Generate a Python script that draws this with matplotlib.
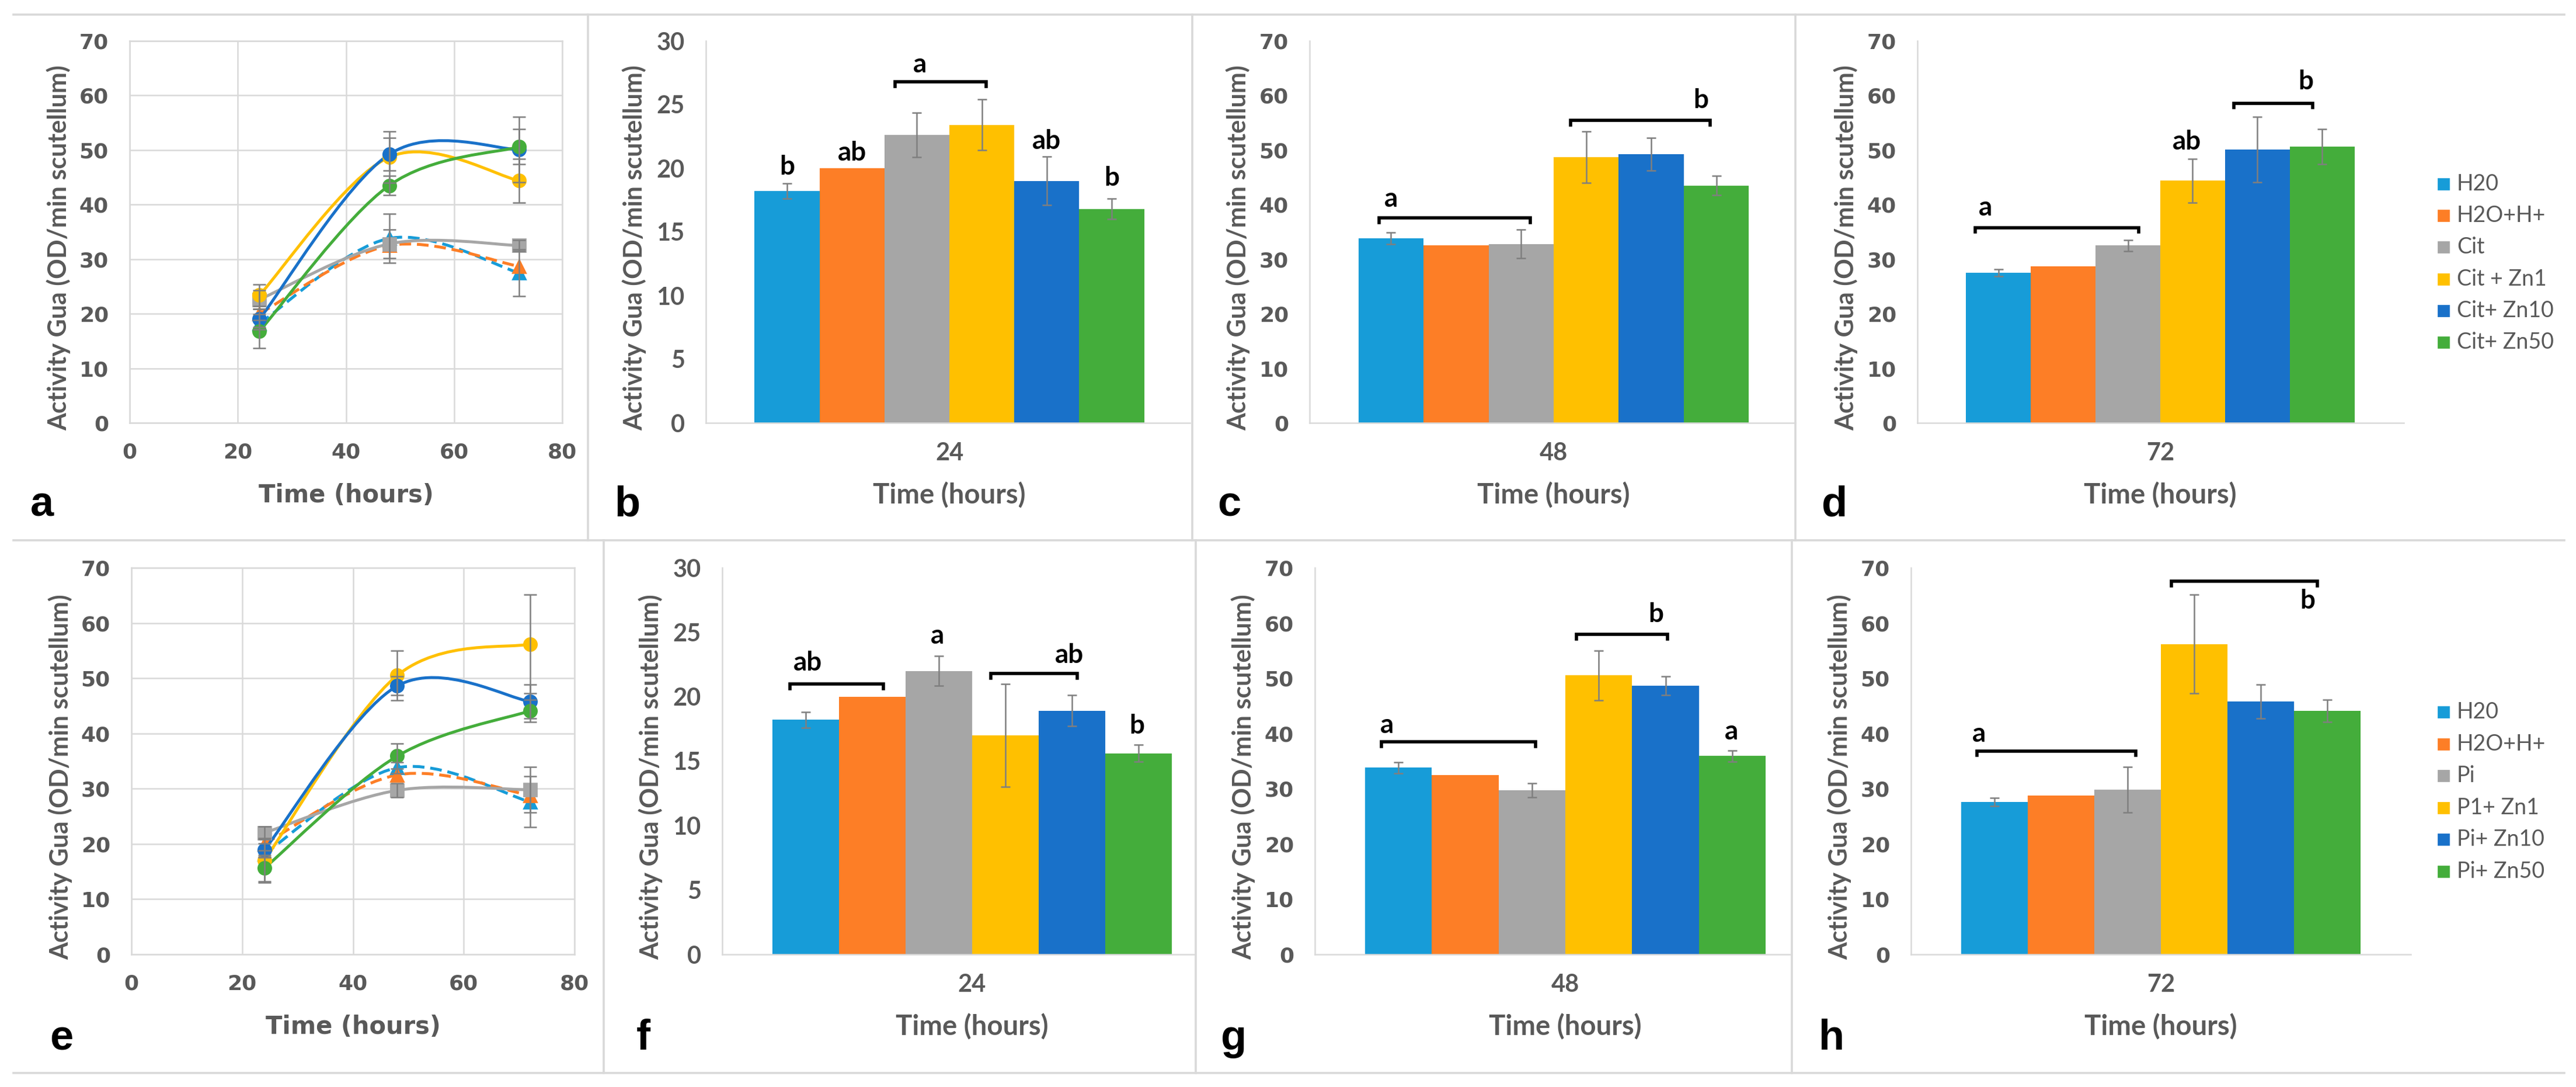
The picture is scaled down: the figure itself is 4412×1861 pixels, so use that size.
import matplotlib.pyplot as plt
import numpy as np
from matplotlib.lines import Line2D
from matplotlib.patches import PathPatch, Rectangle
from matplotlib.path import Path

W, H = 4412, 1861
DPI = 200

HOURS = [24, 48, 72]
CIT_LABELS = ["H20", "H2O+H+", "Cit", "Cit + Zn1", "Cit+ Zn10", "Cit+ Zn50"]
PI_LABELS = ["H20", "H2O+H+", "Pi", "P1+ Zn1", "Pi+ Zn10", "Pi+ Zn50"]
COLORS = ["#179cd8", "#fd7e26", "#a6a6a6", "#ffc000", "#1971c9", "#44ad3b"]

# citrate series (top row), one list per time point, order = labels
CIT_24 = [18.2, 20.0, 22.6, 23.4, 19.0, 16.8]
CIT_24_ERR = [0.6, 0.0, 1.75, 2.0, 1.9, 0.8]
CIT_48 = [33.8, 32.5, 32.8, 48.7, 49.2, 43.5]
CIT_48_ERR = [1.1, 0.0, 2.6, 4.7, 3.0, 1.8]
CIT_72 = [27.5, 28.7, 32.5, 44.4, 50.1, 50.6]
CIT_72_ERR = [0.6, 0.0, 1.0, 4.0, 6.0, 3.2]
# error bars drawn on the time-course plot (a)
CIT_LINE_ERR_24 = [0.6, 0.0, 1.75, 2.0, 1.9, 3.1]
CIT_LINE_ERR_48 = [4.5, 0.0, 2.6, 4.7, 3.0, 1.8]
CIT_LINE_ERR_72 = [4.3, 0.0, 1.0, 4.0, 6.0, 3.2]

# phosphate series (bottom row)
PI_24 = [18.2, 20.0, 22.0, 17.0, 18.9, 15.6]
PI_24_ERR = [0.6, 0.0, 1.15, 4.0, 1.2, 0.65]
PI_48 = [33.8, 32.5, 29.7, 50.5, 48.6, 35.9]
PI_48_ERR = [1.0, 0.0, 1.3, 4.5, 1.7, 1.0]
PI_72 = [27.6, 28.8, 29.8, 56.2, 45.8, 44.1]
PI_72_ERR = [0.7, 0.0, 4.1, 8.9, 3.1, 2.0]
PI_LINE_ERR_24 = [0.6, 0.0, 1.2, 4.0, 1.2, 2.4]
PI_LINE_ERR_48 = [1.0, 0.0, 1.3, 4.5, 1.7, 2.3]
PI_LINE_ERR_72 = [4.6, 0.0, 4.1, 8.9, 3.1, 2.0]

# significance letters (text, bar index, y) and brackets (from, to, y)
B_LETTERS = [("b", 0, 20.1), ("ab", 1, 21.2), ("a", 2.05, 28.1), ("ab", 4, 22.1), ("b", 5, 19.2)]
B_BRACKETS = [(1.66, 3.07, 26.8)]
C_LETTERS = [("a", 0.0, 41.0), ("b", 4.76, 59.1)]
C_BRACKETS = [(-0.18, 2.14, 37.6), (2.76, 4.9, 55.4)]
D_LETTERS = [("a", -0.2, 39.4), ("ab", 2.91, 51.5), ("b", 4.75, 62.5)]
D_BRACKETS = [(-0.36, 2.17, 35.8), (3.64, 4.85, 58.6)]
F_LETTERS = [("ab", 0.03, 22.6), ("a", 1.98, 24.7), ("ab", 3.96, 23.2), ("b", 4.97, 17.7)]
F_BRACKETS = [(-0.23, 1.17, 21.0), (2.78, 4.08, 21.8)]
G_LETTERS = [("a", -0.17, 41.4), ("b", 3.86, 61.5), ("a", 4.99, 40.3)]
G_BRACKETS = [(-0.25, 2.05, 38.5), (2.67, 4.03, 57.9)]
H_LETTERS = [("a", -0.23, 39.9), ("b", 4.7, 64.0)]
H_BRACKETS = [(-0.26, 2.12, 36.85), (2.66, 4.85, 67.6)]

GREY_TXT = "#595959"
FRAME = "#d9d9d9"
YLABEL = "Activity Gua (OD/min scutellum)"
XLABEL = "Time (hours)"
CAL = "Lato"
VER = "DejaVu Sans"

fig = plt.figure(figsize=(W / DPI, H / DPI), dpi=DPI)
fig.patch.set_facecolor("white")


def fx(px):
    return px / W


def fy(py):
    return 1 - py / H


def add_axes(left, right, top, bottom):
    return fig.add_axes([fx(left), fy(bottom), fx(right - left), (bottom - top) / H])


def smooth_path(x, y):
    # Excel style smoothed line: cubic Bezier segments through the points
    pts = np.column_stack([x, y]).astype(float)
    n = len(pts)
    verts, codes = [pts[0]], [Path.MOVETO]
    for i in range(n - 1):
        p0, p1 = pts[max(i - 1, 0)], pts[i]
        p2, p3 = pts[i + 1], pts[min(i + 2, n - 1)]
        verts += [p1 + (p2 - p0) / 6, p2 - (p3 - p1) / 6, p2]
        codes += [Path.CURVE4] * 3
    return Path(verts, codes)


def line_panel(box, series, errs, letter, letter_xy):
    left, right, top, bottom = box
    ax = add_axes(left, right, top, bottom)
    ax.set_xlim(0, 80)
    ax.set_ylim(0, 70)
    ax.set_xticks(range(0, 81, 20))
    ax.set_yticks(range(0, 71, 10))
    ax.grid(True, color=FRAME, lw=0.9)
    ax.set_axisbelow(True)
    for sp in ax.spines.values():
        sp.set_color(FRAME)
        sp.set_linewidth(0.9)
    ax.tick_params(length=0, labelcolor=GREY_TXT, labelsize=13)
    ax.tick_params(axis="y", pad=13)
    ax.tick_params(axis="x", pad=12)
    for lab in ax.get_xticklabels() + ax.get_yticklabels():
        lab.set_fontfamily(VER)
        lab.set_fontweight("bold")

    markers = ["^", "^", "s", "o", "o", "o"]
    styles = [(0, (4, 2)), (0, (4, 2)), "-", "-", "-", "-"]
    for i in range(6):
        ys = [s[i] for s in series]
        es = np.array([e[i] for e in errs])
        patch = PathPatch(smooth_path(HOURS, ys), fill=False, edgecolor=COLORS[i],
                          lw=1.8, linestyle=styles[i], zorder=3)
        ax.add_patch(patch)
        ax.plot(HOURS, ys, ls="none", marker=markers[i], ms=8, color=COLORS[i], zorder=4)
        mask = es > 0
        ax.errorbar(np.array(HOURS)[mask], np.array(ys)[mask], yerr=es[mask], fmt="none",
                    ecolor="#7f7f7f", elinewidth=0.9, capsize=4, capthick=0.9, zorder=5)

    cx = (left + right) / 2
    fig.text(fx(cx), fy(bottom + 124), XLABEL, ha="center", va="center",
             fontsize=15, fontweight="bold", family=VER, color=GREY_TXT)
    fig.text(fx(left - 122), fy((top + bottom) / 2 + 27), YLABEL, rotation=90,
             ha="center", va="center", fontsize=15.5, family=CAL, fontweight="bold", color=GREY_TXT)
    fig.text(fx(letter_xy[0]), fy(letter_xy[1]), letter, ha="left", va="baseline",
             fontsize=26, fontweight="bold", family="Liberation Sans", color="black")
    return ax


def bar_panel(box, values, errs, hour, ymax, ystep, letters, brackets, letter, letter_xy, tickfont):
    left, right, full, top, bottom = box
    ax = add_axes(left, right, top, bottom)
    bw = 0.8 / 6
    xs = -0.4 + (np.arange(6) + 0.5) * bw
    ax.bar(xs, values, width=bw, color=COLORS, edgecolor="none", zorder=2)
    es = np.array(errs)
    mask = es > 0
    ax.errorbar(xs[mask], np.array(values)[mask], yerr=es[mask], fmt="none",
                ecolor="#7f7f7f", elinewidth=0.9, capsize=3, capthick=0.9, zorder=3)
    ax.set_xlim(-0.5, -0.5 + (right - left) / full)
    ax.set_ylim(0, ymax)
    ax.set_yticks(np.arange(0, ymax + 0.1, ystep))
    ax.set_xticks([0])
    ax.set_xticklabels([str(hour)])
    for side in ("top", "right"):
        ax.spines[side].set_visible(False)
    for side in ("left", "bottom"):
        ax.spines[side].set_color(FRAME)
        ax.spines[side].set_linewidth(0.9)
    ax.tick_params(length=0, labelcolor=GREY_TXT)
    ax.tick_params(axis="y", pad=13, labelsize=13 if tickfont == VER else 15)
    ax.tick_params(axis="x", pad=12, labelsize=15)
    for lab in ax.get_yticklabels():
        lab.set_fontfamily(tickfont)
        lab.set_fontweight("bold")
    for lab in ax.get_xticklabels():
        lab.set_fontfamily(CAL)
        lab.set_fontweight("bold")

    def bx(idx):
        return -0.4 + (idx + 0.5) * bw

    hook = ymax * 0.012
    for x0, x1, yb in brackets:
        ax.plot([bx(x0), bx(x0), bx(x1), bx(x1)], [yb - hook, yb, yb, yb - hook],
                color="black", lw=2.0, solid_joinstyle="miter", zorder=4, clip_on=False)
    for txt, idx, yt in letters:
        ax.text(bx(idx), yt, txt, ha="center", va="center", fontsize=16.5,
                fontweight="bold", family=CAL, color="black", zorder=5)

    cx = left + full / 2
    fig.text(fx(cx), fy(bottom + 124), XLABEL, ha="center", va="center",
             fontsize=17, fontweight="bold", family=CAL, color=GREY_TXT)
    fig.text(fx(left - 123), fy((top + bottom) / 2 + 27), YLABEL, rotation=90,
             ha="center", va="center", fontsize=15.5, family=CAL, fontweight="bold", color=GREY_TXT)
    fig.text(fx(letter_xy[0]), fy(letter_xy[1]), letter, ha="left", va="baseline",
             fontsize=26, fontweight="bold", family="Liberation Sans", color="black")
    return ax


def legend(labels, y_first, step):
    for i, lab in enumerate(labels):
        yc = y_first + i * step
        fig.add_artist(Rectangle((fx(4176), fy(yc + 9)), 18 / W, 18 / H,
                                 transform=fig.transFigure, color=COLORS[i]))
        fig.text(fx(4208), fy(yc), lab, ha="left", va="center", fontsize=13.5,
                 family=CAL, color=GREY_TXT)


def hline(y, x0, x1):
    fig.add_artist(Line2D([fx(x0), fx(x1)], [fy(y), fy(y)], color=FRAME, lw=1.3))


def vline(x, y0, y1):
    fig.add_artist(Line2D([fx(x), fx(x)], [fy(y0), fy(y1)], color=FRAME, lw=1.3))


# panel separators
hline(25, 23, 4392)
hline(925, 23, 4392)
hline(1837, 23, 4392)
for x in (1007, 2042, 3075):
    vline(x, 25, 925)
for x in (1034, 2048, 3069):
    vline(x, 925, 1837)

# top row: citrate
line_panel((222, 963, 70, 724), [CIT_24, CIT_48, CIT_72],
           [CIT_LINE_ERR_24, CIT_LINE_ERR_48, CIT_LINE_ERR_72], "a", (52, 884))
bar_panel((1209, 2038, 834, 70, 724), CIT_24, CIT_24_ERR, 24, 30, 5,
          B_LETTERS, B_BRACKETS, "b", (1052, 884), CAL)
bar_panel((2243, 3075, 836, 70, 724), CIT_48, CIT_48_ERR, 48, 70, 10,
          C_LETTERS, C_BRACKETS, "c", (2085, 884), VER)
bar_panel((3284, 4117, 832, 70, 724), CIT_72, CIT_72_ERR, 72, 70, 10,
          D_LETTERS, D_BRACKETS, "d", (3120, 884), VER)
legend(CIT_LABELS, 315, 54.2)

# bottom row: phosphate
line_panel((225, 984, 972, 1634), [PI_24, PI_48, PI_72],
           [PI_LINE_ERR_24, PI_LINE_ERR_48, PI_LINE_ERR_72], "e", (85, 1797))
bar_panel((1237, 2046, 856, 972, 1634), PI_24, PI_24_ERR, 24, 30, 5,
          F_LETTERS, F_BRACKETS, "f", (1090, 1797), CAL)
bar_panel((2252, 3066, 858, 972, 1634), PI_48, PI_48_ERR, 48, 70, 10,
          G_LETTERS, G_BRACKETS, "g", (2091, 1797), VER)
bar_panel((3273, 4129, 856, 972, 1634), PI_72, PI_72_ERR, 72, 70, 10,
          H_LETTERS, H_BRACKETS, "h", (3115, 1797), VER)
legend(PI_LABELS, 1219, 54.6)

fig.savefig("out.png", dpi=DPI, facecolor="white")
